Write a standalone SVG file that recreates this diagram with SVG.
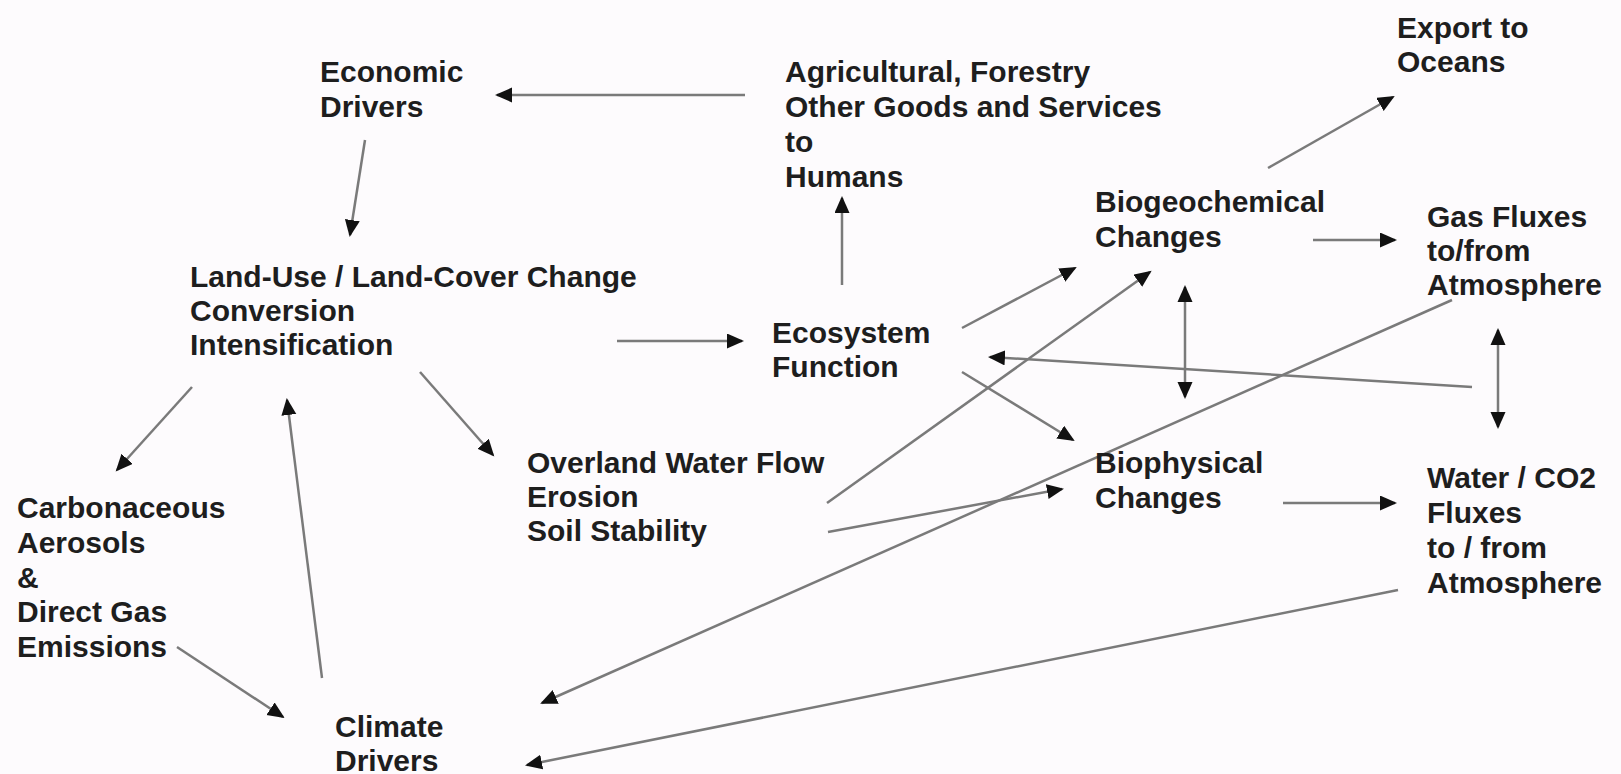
<svg xmlns="http://www.w3.org/2000/svg" width="1621" height="774" viewBox="0 0 1621 774">
<style>
text{font-family:"Liberation Sans",Arial,sans-serif;font-weight:bold;font-size:30px;fill:#1e1e1e}
.c line{stroke:#7a7a7a;stroke-width:2.5;marker-end:url(#ah)}
.c line.d{marker-start:url(#as)}
</style>
<defs>
<marker id="ah" markerUnits="userSpaceOnUse" markerWidth="18" markerHeight="16" refX="15" refY="7.5" orient="auto"><path d="M0,0 L17,7.5 L0,15 z" fill="#111"/></marker>
<marker id="as" markerUnits="userSpaceOnUse" markerWidth="18" markerHeight="16" refX="2" refY="7.5" orient="auto"><path d="M17,0 L0,7.5 L17,15 z" fill="#111"/></marker>
</defs>
<rect width="1621" height="774" fill="#fdfbfd"/>
<g class="c" id="connectors">
<line x1="745" y1="95" x2="497" y2="95"/>
<line x1="365" y1="140" x2="350" y2="235"/>
<line x1="842" y1="285" x2="842" y2="198"/>
<line x1="617" y1="341" x2="742" y2="341"/>
<line x1="192" y1="387" x2="117" y2="470"/>
<line x1="322" y1="678" x2="287" y2="400"/>
<line x1="420" y1="372" x2="493" y2="455"/>
<line x1="177" y1="647" x2="283" y2="717"/>
<line x1="962" y1="328" x2="1075" y2="268"/>
<line x1="962" y1="372" x2="1073" y2="440"/>
<line x1="827" y1="503" x2="1150" y2="272"/>
<line x1="828" y1="532" x2="1062" y2="489"/>
<line x1="1452" y1="300" x2="542" y2="703"/>
<line x1="1398" y1="590" x2="527" y2="765"/>
<line class="d" x1="1185" y1="287" x2="1185" y2="397"/>
<line class="d" x1="1498" y1="330" x2="1498" y2="427"/>
<line x1="1472" y1="387" x2="990" y2="357"/>
<line x1="1268" y1="168" x2="1393" y2="97"/>
<line x1="1313" y1="240" x2="1395" y2="240"/>
<line x1="1283" y1="503" x2="1395" y2="503"/>
</g>
<g id="economic"><text x="320" y="82">Economic</text><text x="320" y="117">Drivers</text></g>
<g id="agri"><text x="785" y="82">Agricultural, Forestry</text><text x="785" y="117">Other Goods and Services</text><text x="785" y="152">to</text><text x="785" y="187">Humans</text></g>
<g id="export"><text x="1397" y="38">Export to</text><text x="1397" y="72">Oceans</text></g>
<g id="biogeo"><text x="1095" y="212">Biogeochemical</text><text x="1095" y="247">Changes</text></g>
<g id="gas"><text x="1427" y="227">Gas Fluxes</text><text x="1427" y="261">to/from</text><text x="1427" y="295">Atmosphere</text></g>
<g id="landuse"><text x="190" y="287">Land-Use / Land-Cover Change</text><text x="190" y="321">Conversion</text><text x="190" y="355">Intensification</text></g>
<g id="ecosystem"><text x="772" y="343">Ecosystem</text><text x="772" y="377">Function</text></g>
<g id="overland"><text x="527" y="473">Overland Water Flow</text><text x="527" y="507">Erosion</text><text x="527" y="541">Soil Stability</text></g>
<g id="biophys"><text x="1095" y="473">Biophysical</text><text x="1095" y="508">Changes</text></g>
<g id="water"><text x="1427" y="488">Water / CO2</text><text x="1427" y="523">Fluxes</text><text x="1427" y="558">to / from</text><text x="1427" y="593">Atmosphere</text></g>
<g id="carbon"><text x="17" y="518">Carbonaceous</text><text x="17" y="553">Aerosols</text><text x="17" y="588">&amp;</text><text x="17" y="622">Direct Gas</text><text x="17" y="657">Emissions</text></g>
<g id="climate"><text x="335" y="737">Climate</text><text x="335" y="771">Drivers</text></g>
</svg>
